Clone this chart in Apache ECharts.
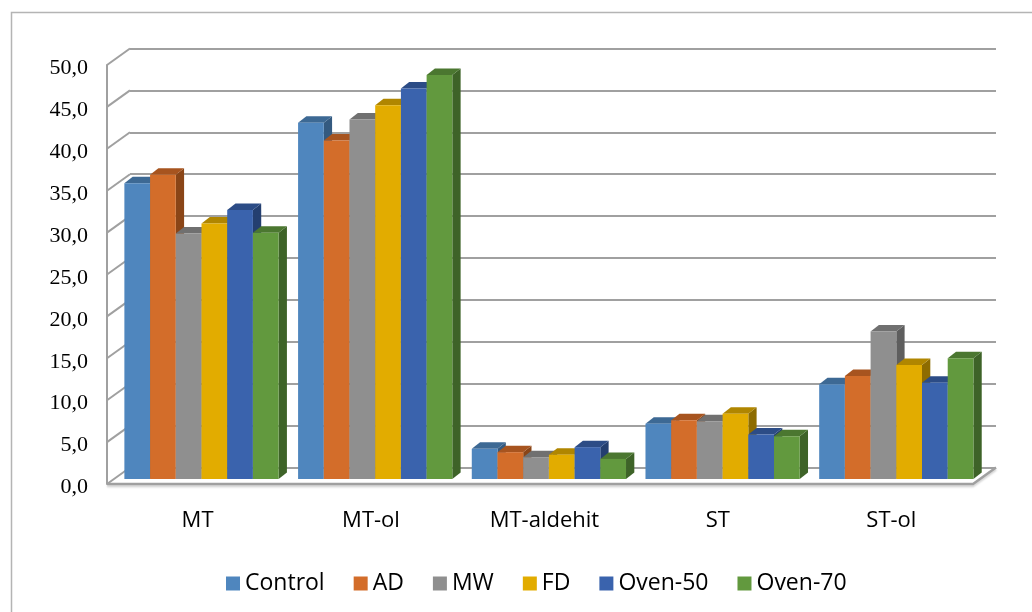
<!DOCTYPE html>
<html>
<head>
<meta charset="utf-8">
<script src="https://cdn.jsdelivr.net/npm/echarts@6/dist/echarts.min.js"></script>
<style>
  html, body { margin: 0; padding: 0; background: #ffffff; }
  #chart { width: 1032px; height: 612px; }
</style>
</head>
<body>
<div id="chart"></div>
<script>
// Categories and series values
const categories = ['MT', 'MT-ol', 'MT-aldehit', 'ST', 'ST-ol'];
const seriesNames = ['Control', 'AD', 'MW', 'FD', 'Oven-50', 'Oven-70'];
const control = [35.3, 42.5, 3.6, 6.6, 11.3];
const ad      = [36.3, 40.4, 3.2, 7.0, 12.3];
const mw      = [29.3, 42.9, 2.6, 6.9, 17.6];
const fd      = [30.5, 44.6, 2.9, 7.8, 13.6];
const oven50  = [32.1, 46.6, 3.8, 5.3, 11.5];
const oven70  = [29.4, 48.2, 2.4, 5.1, 14.4];
const seriesValues = [control, ad, mw, fd, oven50, oven70];

// Value axis ticks
const yMin = 0, yMax = 50, yStep = 5;
const yTicks = [0, 5, 10, 15, 20, 25, 30, 35, 40, 45, 50];

// Face colours per series: front, top, side
const frontColors = ['#4F86BE', '#D36D2A', '#8F8F8F', '#E2AC00', '#3A63AD', '#62993E'];
const topColors   = ['#3D6994', '#A7541F', '#707070', '#B08600', '#2C4C86', '#4B7730'];
const sideColors  = ['#345A80', '#8A4517', '#5E5E5E', '#8E6C00', '#243F70', '#3E6328'];

// Pseudo-3D geometry
const FRONT = { left: 107, top: 65, width: 866, height: 419 };
const WALL_DEPTH = [23, -16.5];      // front plane -> back wall
const BAR_SHIFT = [7.65, -5];        // front plane -> bar plane
const BAR_DEPTH = [8.3, -6.5];       // thickness of each column
const BAR_BAND_RATIO = 0.148;        // column width / category band
const GRID_COLOR = '#A0A0A0';

const chart = echarts.init(document.getElementById('chart'), null, { renderer: 'canvas' });

const fmt = v => '{v|' + v.toFixed(1).replace('.', ',') + '}';

// Back wall gridlines + left wall diagonals
const wallSeries = {
  type: 'custom',
  xAxisIndex: 0, yAxisIndex: 0,
  silent: true, z: 1,
  data: yTicks.map(v => [0, v]),
  renderItem: function (params, api) {
    const cs = params.coordSys;
    const p = api.coord([0, api.value(1)]);
    const x0 = cs.x, y0 = p[1];
    return {
      type: 'line',
      shape: { x1: x0, y1: y0, x2: x0 - WALL_DEPTH[0], y2: y0 - WALL_DEPTH[1] },
      style: { stroke: GRID_COLOR, lineWidth: 2 }
    };
  }
};

// Floor outline
const floorSeries = {
  type: 'custom',
  xAxisIndex: 1, yAxisIndex: 1,
  silent: true, z: 1,
  data: [[0, 0]],
  renderItem: function (params, api) {
    const cs = params.coordSys;
    const y0 = api.coord([0, 0])[1];
    const xl = cs.x, xr = cs.x + cs.width;
    return {
      type: 'polyline',
      shape: { points: [[xl, y0], [xr, y0], [xr + WALL_DEPTH[0], y0 + WALL_DEPTH[1]]] },
      style: { stroke: GRID_COLOR, lineWidth: 2.5, fill: null,
               shadowColor: 'rgba(0,0,0,0.18)', shadowBlur: 2, shadowOffsetY: 2 }
    };
  }
};

function makeBarSeries(k) {
  return {
    name: seriesNames[k],
    type: 'custom',
    xAxisIndex: 2, yAxisIndex: 2,
    z: 3,
    itemStyle: { color: frontColors[k] },
    encode: { x: 0, y: 1 },
    data: seriesValues[k].map((v, i) => [i, v]),
    renderItem: function (params, api) {
      const band = api.size([1, 0])[0];
      const w = band * BAR_BAND_RATIO;
      const base = api.coord([api.value(0), 0]);
      const top = api.coord([api.value(0), api.value(1)]);
      const L = base[0] - w * seriesNames.length / 2 + k * w;
      const R = L + w;
      const ty = top[1], by = base[1];
      const dx = BAR_DEPTH[0], dy = BAR_DEPTH[1];
      return {
        type: 'group',
        children: [
          { type: 'polygon',
            shape: { points: [[R, ty], [R + dx, ty + dy], [R + dx, by + dy], [R, by]] },
            style: { fill: sideColors[k] } },
          { type: 'polygon',
            shape: { points: [[L, ty], [R, ty], [R + dx, ty + dy], [L + dx, ty + dy]] },
            style: { fill: topColors[k] } },
          { type: 'rect',
            shape: { x: L, y: ty, width: w, height: by - ty },
            style: { fill: frontColors[k] } }
        ]
      };
    }
  };
}

const hiddenCat = { type: 'category', data: categories, show: false };
const hiddenVal = { type: 'value', min: yMin, max: yMax, interval: yStep, show: false };

const option = {
  animation: false,
  backgroundColor: '#ffffff',
  grid: [
    // back wall
    { left: FRONT.left + WALL_DEPTH[0], top: FRONT.top + WALL_DEPTH[1],
      width: FRONT.width, height: FRONT.height },
    // front plane (value labels, floor edge)
    { left: FRONT.left, top: FRONT.top, width: FRONT.width, height: FRONT.height },
    // column plane
    { left: FRONT.left + BAR_SHIFT[0], top: FRONT.top + BAR_SHIFT[1],
      width: FRONT.width + 2.5, height: FRONT.height },
    // category label plane, halfway into the floor
    { left: FRONT.left + BAR_SHIFT[0] / 2, top: FRONT.top, width: FRONT.width + 1.25, height: FRONT.height }
  ],
  xAxis: [
    Object.assign({ gridIndex: 0 }, hiddenCat),
    Object.assign({ gridIndex: 1 }, hiddenCat),
    Object.assign({ gridIndex: 2 }, hiddenCat),
    { gridIndex: 3, type: 'category', data: categories,
      axisLine: { show: false },
      axisTick: { show: false },
      axisLabel: { margin: 26, color: '#000000', fontFamily: 'Open Sans', fontSize: 22 } }
  ],
  yAxis: [
    { gridIndex: 0, type: 'value', min: yMin, max: yMax, interval: yStep,
      axisLine: { show: false }, axisTick: { show: false }, axisLabel: { show: false },
      splitLine: { show: true, lineStyle: { color: GRID_COLOR, width: 2 } } },
    { gridIndex: 1, type: 'value', min: yMin, max: yMax, interval: yStep,
      axisLine: { show: true, lineStyle: { color: GRID_COLOR, width: 2 } },
      axisTick: { show: false },
      splitLine: { show: false },
      axisLabel: { margin: 19, formatter: fmt,
                   rich: { v: { color: '#000000', fontFamily: 'Liberation Serif', fontSize: 22,
                                padding: [7, 0, 0, 0] } } } },
    Object.assign({ gridIndex: 2 }, hiddenVal),
    Object.assign({ gridIndex: 3 }, hiddenVal)
  ],
  legend: {
    data: seriesNames,
    left: 221, top: 567,
    icon: 'rect', itemWidth: 14, itemHeight: 14, itemGap: 29,
    textStyle: { color: '#000000', fontFamily: 'Open Sans', fontSize: 23 }
  },
  graphic: [
    { type: 'rect', silent: true, z: -1,
      shape: { x: 11.5, y: 12.5, width: 1100, height: 700 },
      style: { fill: null, stroke: '#B4B4B4', lineWidth: 1.5 } }
  ],
  series: [wallSeries, floorSeries].concat(seriesNames.map((n, k) => makeBarSeries(k)))
};

chart.setOption(option);
</script>
</body>
</html>
